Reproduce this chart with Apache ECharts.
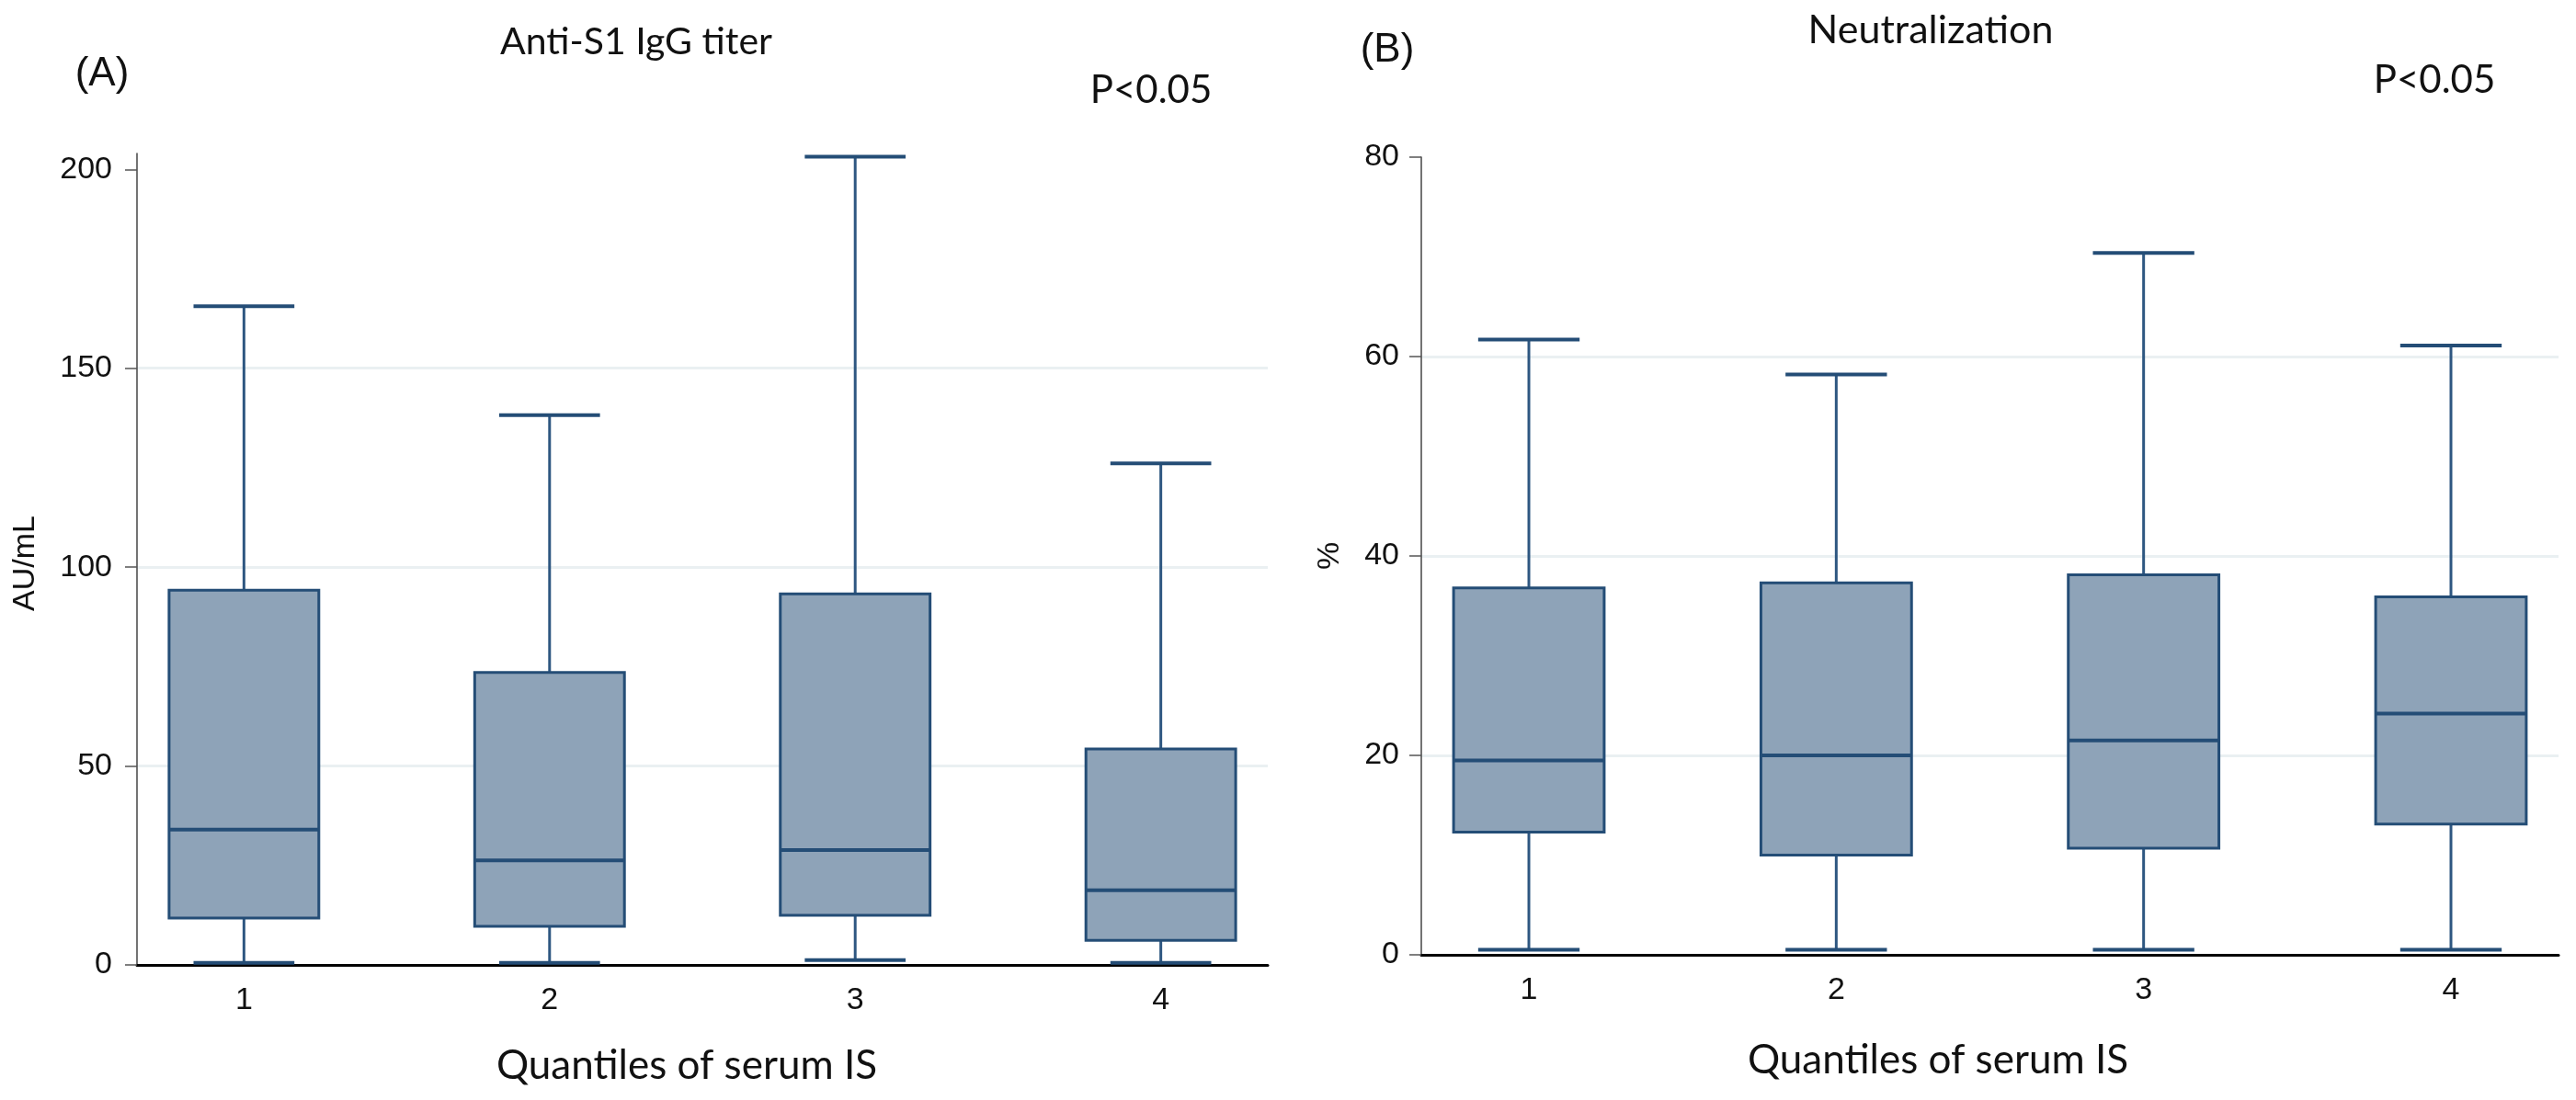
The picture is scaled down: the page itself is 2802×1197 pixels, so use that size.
<!DOCTYPE html>
<html>
<head>
<meta charset="utf-8">
<script src="https://cdn.jsdelivr.net/npm/echarts@6/dist/echarts.min.js"></script>
<style>html,body{margin:0;padding:0;background:#fff;}#main{width:2802px;height:1197px;}</style>
</head>
<body>
<div id="main"></div>
<script>
// ---- data ----
const categories = [1, 2, 3, 4];
const iggLow = [0.5, 0.5, 1.2, 0.5];
const iggQ1 = [11.8, 9.7, 12.5, 6.2];
const iggMedian = [34.0, 26.3, 28.9, 18.8];
const iggQ3 = [94.2, 73.5, 93.3, 54.3];
const iggHigh = [165.6, 138.2, 203.2, 126.1];

const neutLow = [0.5, 0.5, 0.5, 0.5];
const neutQ1 = [12.3, 10.0, 10.7, 13.1];
const neutMedian = [19.5, 20.0, 21.5, 24.2];
const neutQ3 = [36.8, 37.3, 38.1, 35.9];
const neutHigh = [61.7, 58.2, 70.4, 61.1];

const iggTicks = [0, 50, 100, 150, 200];
const neutTicks = [0, 20, 40, 60, 80];

// ---- build ----
function rows(low, q1, med, q3, high) {
  return categories.map((c, i) => [c, low[i], q1[i], med[i], q3[i], high[i]]);
}
const BOX_FILL = '#8EA3B8', BOX_EDGE = '#244D76', WHISKER = '#2E5781';

function renderBox(params, api) {
  const x = api.value(0);
  const pLow = api.coord([x, api.value(1)]);
  const pQ1 = api.coord([x, api.value(2)]);
  const pMed = api.coord([x, api.value(3)]);
  const pQ3 = api.coord([x, api.value(4)]);
  const pHigh = api.coord([x, api.value(5)]);
  const bw = api.size([0.49, 0])[0] / 2;
  const cw = api.size([0.33, 0])[0] / 2;
  const cx = pMed[0];
  return {
    type: 'group',
    children: [
      {type: 'line', shape: {x1: cx, y1: pHigh[1], x2: cx, y2: pQ3[1]}, style: {stroke: WHISKER, lineWidth: 3}},
      {type: 'line', shape: {x1: cx, y1: pQ1[1], x2: cx, y2: pLow[1]}, style: {stroke: WHISKER, lineWidth: 3}},
      {type: 'line', shape: {x1: cx - cw, y1: pHigh[1], x2: cx + cw, y2: pHigh[1]}, style: {stroke: BOX_EDGE, lineWidth: 4}},
      {type: 'line', shape: {x1: cx - cw, y1: pLow[1], x2: cx + cw, y2: pLow[1]}, style: {stroke: BOX_EDGE, lineWidth: 4}},
      {type: 'rect', shape: {x: cx - bw, y: pQ3[1], width: 2 * bw, height: pQ1[1] - pQ3[1]}, style: {fill: BOX_FILL, stroke: BOX_EDGE, lineWidth: 3}},
      {type: 'line', shape: {x1: cx - bw, y1: pMed[1], x2: cx + bw, y2: pMed[1]}, style: {stroke: BOX_EDGE, lineWidth: 4}}
    ]
  };
}

const tickFont = {fontFamily: 'Liberation Sans', fontSize: 34, color: '#111'};

function xAxisDef(idx) {
  return {
    type: 'value', gridIndex: idx, min: 0.65, max: 4.35,
    axisLine: {show: true, onZero: false, lineStyle: {color: '#000', width: 3}},
    axisTick: {show: false},
    splitLine: {show: false},
    axisLabel: Object.assign({customValues: categories, margin: 22}, tickFont)
  };
}
function yAxisDef(idx, max, ticks, margin) {
  return {
    type: 'value', gridIndex: idx, min: 0, max: max,
    axisLine: {show: true, lineStyle: {color: '#444', width: 1.5}},
    axisTick: {show: true, length: 13, lineStyle: {color: '#555', width: 1.5}, customValues: ticks},
    axisLabel: Object.assign({customValues: ticks, margin: margin}, tickFont),
    splitLine: {show: true, showMaxLine: false, showMinLine: false, lineStyle: {color: '#EAF0F2', width: 3}}
  };
}

function txt(text, x, y, size, family, rot) {
  const el = {
    type: 'text', x: x, y: y,
    style: {text: text, font: size + 'px ' + family, fill: '#111',
      textAlign: 'center', textVerticalAlign: 'middle', align: 'center', verticalAlign: 'middle'}
  };
  if (rot) el.rotation = rot;
  return el;
}

const option = {
  backgroundColor: '#fff',
  animation: false,
  grid: [
    {left: 149, top: 167, width: 1230, height: 883},
    {left: 1546, top: 171, width: 1237, height: 868}
  ],
  xAxis: [xAxisDef(0), xAxisDef(1)],
  yAxis: [yAxisDef(0, 204, iggTicks, 27), yAxisDef(1, 80, neutTicks, 24)],
  series: [
    {type: 'custom', xAxisIndex: 0, yAxisIndex: 0, renderItem: renderBox,
     encode: {x: 0, y: [1, 2, 3, 4, 5]}, data: rows(iggLow, iggQ1, iggMedian, iggQ3, iggHigh)},
    {type: 'custom', xAxisIndex: 1, yAxisIndex: 1, renderItem: renderBox,
     encode: {x: 0, y: [1, 2, 3, 4, 5]}, data: rows(neutLow, neutQ1, neutMedian, neutQ3, neutHigh)}
  ],
  graphic: [
    txt('(A)', 111, 81, 44, 'Liberation Sans'),
    txt('Anti-S1 IgG titer', 692, 46, 41, 'Lato'),
    txt('P<0.05', 1252, 98, 42, 'Lato'),
    txt('AU/mL', 28, 613, 34, 'Liberation Sans', Math.PI / 2),
    txt('Quantiles of serum IS', 747, 1160, 44, 'Lato'),
    txt('(B)', 1509, 55, 44, 'Liberation Sans'),
    txt('Neutralization', 2100, 33, 43, 'Lato'),
    txt('P<0.05', 2648, 87, 42, 'Lato'),
    txt('%', 1447, 605, 34, 'Liberation Sans', Math.PI / 2),
    txt('Quantiles of serum IS', 2108, 1154, 44, 'Lato')
  ]
};
const chart = echarts.init(document.getElementById('main'));
chart.setOption(option);
</script>
</body>
</html>
